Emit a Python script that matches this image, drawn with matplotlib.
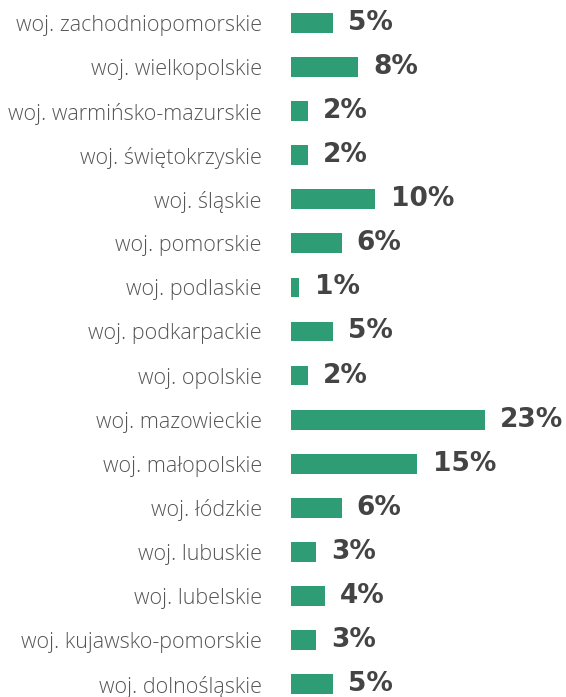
import matplotlib.pyplot as plt

# Share of respondents by voivodeship (%)
regions = [
    "woj. zachodniopomorskie",
    "woj. wielkopolskie",
    "woj. warmińsko-mazurskie",
    "woj. świętokrzyskie",
    "woj. śląskie",
    "woj. pomorskie",
    "woj. podlaskie",
    "woj. podkarpackie",
    "woj. opolskie",
    "woj. mazowieckie",
    "woj. małopolskie",
    "woj. łódzkie",
    "woj. lubuskie",
    "woj. lubelskie",
    "woj. kujawsko-pomorskie",
    "woj. dolnośląskie",
]
shares = [5, 8, 2, 2, 10, 6, 1, 5, 2, 23, 15, 6, 3, 4, 3, 5]

BAR_COLOR = "#2e9c74"
VALUE_COLOR = "#444444"
LABEL_COLOR = "#555555"

W, H = 566, 697
fig = plt.figure(figsize=(W / 100, H / 100), dpi=100)
ax = fig.add_axes([291 / W, 0, 275 / W, 1])

pos = list(range(len(regions)))
ax.barh(pos, shares, height=0.45, color=BAR_COLOR)

ax.set_xlim(0, 275 / 8.43)
ax.set_ylim((697 - 23) / 44.07, -23 / 44.07)

ax.set_yticks(pos)
ax.set_yticklabels(regions, fontsize=15.5, color=LABEL_COLOR,
                   fontfamily="Open Sans", fontweight="light")
ax.tick_params(axis="y", length=0, pad=21)
ax.set_xticks([])
for s in ax.spines.values():
    s.set_visible(False)

for y, v in zip(pos, shares):
    ax.annotate(f"{v}%", (v, y), xytext=(11, 0), textcoords="offset points",
                ha="left", va="center", fontsize=19, fontweight="bold",
                fontfamily="DejaVu Sans", color=VALUE_COLOR)

fig.savefig("out.png", dpi=100)
